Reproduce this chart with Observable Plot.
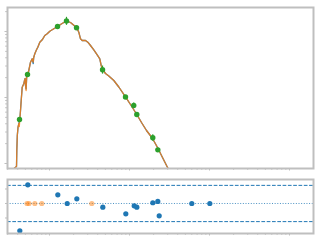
<!DOCTYPE html>
<html>
<head>
<meta charset="utf-8">
<script src="https://cdn.jsdelivr.net/npm/d3@7"></script>
<script src="https://cdn.jsdelivr.net/npm/@observablehq/plot@0.6"></script>
<style>
  html, body { margin: 0; padding: 0; background: #fff; }
  #chart { width: 320px; height: 240px; overflow: hidden; }
  #chart svg { display: block; }
</style>
</head>
<body>
<div id="chart"></div>
<script>
// Model spectrum (wavelength, flux)
const modelX = [0.03651,0.03869,0.03902,0.03959,0.04039,0.04133,0.04193,0.04254,0.04340,0.04428,
  0.04557,0.04772,0.04870,0.04955,0.05012,0.05099,0.05188,0.05355,0.05511,0.05788,
  0.06078,0.06255,0.06346,0.06550,0.06879,0.07141,0.07564,0.08105,0.08733,0.09359,
  0.1009,0.1081,0.1189,0.1270,0.1372,0.1510,0.1646,0.1830,0.2012,0.2195,
  0.2324,0.2440,0.2563,0.2818,0.3011,0.3255,0.3579,0.3947,0.4253,0.4428,
  0.4637,0.5012,0.5511,0.6364,0.7350,0.8913,1.029,1.234,1.413,1.631,
  1.922,2.258,2.585,3.012,3.758];
const modelOrange = [0.855,0.9006,1.574,2.657,3.513,4.037,3.636,4.642,6.355,9.006,
  14.33,16.13,18.10,19.41,15.20,12.77,20.81,22.31,25.65,34.26,
  38.58,34.26,40.37,45.93,52.82,57.83,68.86,74.85,86.98,92.3,
  101.0,106.1,113.8,119.1,127.7,136.9,143.3,136.9,124.6,113.8,
  97.6,77.5,73.05,73.05,68.86,61.37,52.82,44.36,38.58,30.53,
  26.28,23.10,21.17,18.10,14.42,10.25,7.83,5.53,4.18,3.162,
  2.434,1.718,1.233,0.855,0.515];
const modelBlue = [0.855,0.9006,1.574,2.657,3.513,4.0,4.3,4.642,6.355,9.006,
  14.33,16.13,18.10,19.41,15.20,13.5,20.81,22.31,25.65,34.26,
  38.58,32.7,40.37,45.93,52.82,57.83,68.86,74.85,86.98,92.3,
  101.0,106.1,113.8,119.1,127.7,136.9,143.3,136.9,124.6,113.8,
  97.6,77.5,73.05,73.05,68.86,61.37,52.82,44.36,38.58,30.53,
  26.28,23.10,21.17,18.10,14.42,10.25,7.83,5.53,4.18,3.162,
  2.434,1.718,1.233,0.855,0.515];

// Observed photometry
const obsX    = [0.0422, 0.0531, 0.126, 0.163, 0.2176, 0.46, 0.891, 1.13, 1.234, 1.955, 2.26];
const obsFlux = [4.64, 22.3, 119, 144, 114, 26.3, 10.2, 7.57, 5.53, 2.45, 1.61];
const obsErr  = [0.25, 1.2, 6.3, 20, 6, 3.7, 0.54, 0.69, 0.29, 0.27, 0.085];

// Residuals
const resX   = [0.04254, 0.05355, 0.1270, 0.1665, 0.2195, 0.4637, 0.8990, 1.145, 1.234, 1.956, 2.258, 2.351, 6.008, 10.09];
const resVal = [-1.88, 1.29, 0.60, 0.0, 0.32, -0.255, -0.71, -0.16, -0.255, 0.05, 0.14, -0.85, 0.0, 0.0];
const limX   = [0.05233, 0.05543, 0.06550, 0.08012, 0.3378];
const limVal = [0, 0, 0, 0, 0];

// Ticks
const xMajor = [0.1, 1, 10, 100];
const xMinor = [0.03,0.04,0.05,0.06,0.07,0.08,0.09,0.2,0.3,0.4,0.5,0.6,0.7,0.8,0.9,
  2,3,4,5,6,7,8,9,20,30,40,50,60,70,80,90];
const yMajor = [1, 10, 100];
const yMinor = [2,3,4,5,6,7,8,9,20,30,40,50,60,70,80,90,200];
const resTicks = [-1, 0, 1];
const resBands = [-1.25, 1.25];

const spine = "#bfbfbf";
const cBlue = "#1f77b4", cOrange = "#ff7f0e", cGreen = "#2ca02c";

const xDomain = [0.02985, 199.5];

const modelO = modelX.map((x, i) => ({x, y: modelOrange[i]}));
const modelB = modelX.map((x, i) => ({x, y: modelBlue[i]}));
const obs = obsX.map((x, i) => ({x, y: obsFlux[i], lo: obsFlux[i] - obsErr[i], hi: obsFlux[i] + obsErr[i]}));
const res = resX.map((x, i) => ({x, y: resVal[i]}));
const lim = limX.map((x, i) => ({x, y: limVal[i]}));

const topPlot = Plot.plot({
  width: 320, height: 175,
  marginLeft: 7, marginRight: 7, marginTop: 7, marginBottom: 7,
  x: {type: "log", domain: xDomain},
  y: {type: "log", domain: [0.8399, 231]},
  marks: [
    Plot.line(modelB, {x: "x", y: "y", stroke: cBlue, strokeWidth: 1.3, clip: true}),
    Plot.line(modelO, {x: "x", y: "y", stroke: cOrange, strokeOpacity: 0.82, strokeWidth: 1.3, clip: true}),
    Plot.ruleX(obs, {x: "x", y1: "lo", y2: "hi", stroke: cGreen, strokeWidth: 1.2}),
    Plot.dot(obs, {x: "x", y: "y", r: 2.7, fill: cGreen, stroke: "none"}),
    Plot.frame({stroke: spine, strokeWidth: 2}),
    Plot.axisX(xMajor, {tickSize: 2.5, fill: "none", stroke: spine, label: null}),
    Plot.axisX(xMinor, {tickSize: 1.8, fill: "none", stroke: spine, label: null}),
    Plot.axisY(yMajor, {tickSize: 2.5, fill: "none", stroke: spine, label: null}),
    Plot.axisY(yMinor, {tickSize: 1.8, fill: "none", stroke: spine, label: null})
  ]
});

const bottomPlot = Plot.plot({
  width: 320, height: 65,
  marginLeft: 7, marginRight: 7, marginTop: 4, marginBottom: 7,
  x: {type: "log", domain: xDomain},
  y: {domain: [-2.07, 1.655]},
  marks: [
    Plot.ruleY(resBands, {stroke: cBlue, strokeWidth: 1, strokeDasharray: "3.7,1.6"}),
    Plot.ruleY([0], {stroke: cBlue, strokeWidth: 1, strokeOpacity: 0.8, strokeDasharray: "1,1.65"}),
    Plot.dot(lim, {x: "x", y: "y", r: 2.6, fill: cOrange, fillOpacity: 0.5, stroke: "none"}),
    Plot.dot(res, {x: "x", y: "y", r: 2.6, fill: cBlue, stroke: "none"}),
    Plot.frame({stroke: spine, strokeWidth: 2}),
    Plot.axisX(xMajor, {tickSize: 2.5, fill: "none", stroke: spine, label: null}),
    Plot.axisX(xMinor, {tickSize: 1.8, fill: "none", stroke: spine, label: null}),
    Plot.axisY(resTicks, {tickSize: 2, fill: "none", stroke: spine, label: null})
  ]
});

const chart = document.getElementById("chart");
chart.appendChild(topPlot);
chart.appendChild(bottomPlot);
</script>
</body>
</html>
